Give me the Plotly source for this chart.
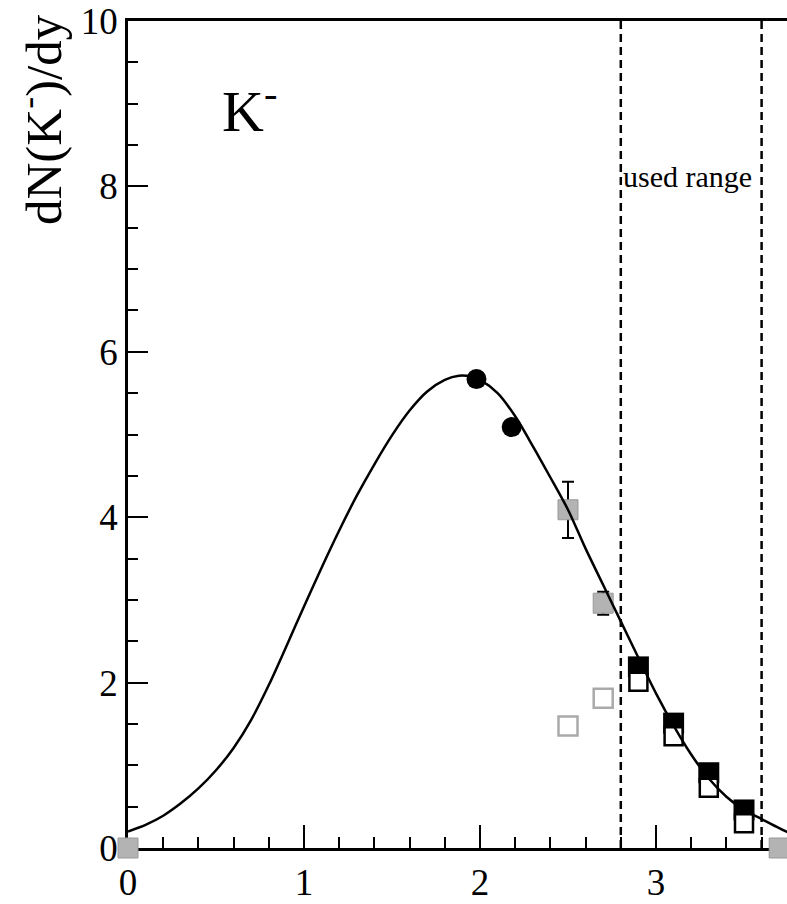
import plotly.graph_objects as go

# ---- data ----
curve_x = [0.0, 0.1, 0.2, 0.3, 0.4, 0.5, 0.6, 0.7, 0.8, 0.9, 1.0, 1.1, 1.2, 1.3, 1.4, 1.5,
           1.6, 1.7, 1.8, 1.88, 1.95, 2.0, 2.1, 2.2, 2.3, 2.4, 2.5, 2.6, 2.7, 2.8, 2.9, 3.0,
           3.1, 3.2, 3.3, 3.4, 3.5, 3.6, 3.7, 3.75]
curve_y = [0.20, 0.28, 0.39, 0.54, 0.72, 0.94, 1.21, 1.55, 1.97, 2.44, 2.92, 3.39, 3.84, 4.26,
           4.64, 4.99, 5.29, 5.52, 5.66, 5.71, 5.70, 5.66, 5.50, 5.22, 4.86, 4.48, 4.09, 3.62,
           3.18, 2.74, 2.30, 1.87, 1.48, 1.13, 0.84, 0.62, 0.46, 0.35, 0.24, 0.19]

circ_x = [1.98, 2.18]
circ_y = [5.67, 5.09]
circ_err = [0.08, 0.0]

gray_fill_x = [2.5, 2.7, 0.0, 3.7]
gray_fill_y = [4.09, 2.96, 0.0, 0.0]
gray_fill_err = [0.34, 0.14, 0.0, 0.0]

gray_open_x = [2.5, 2.7]
gray_open_y = [1.475, 1.81]

black_fill_x = [2.9, 3.1, 3.3, 3.5]
black_fill_y = [2.19, 1.51, 0.91, 0.46]

black_open_x = [2.9, 3.1, 3.3, 3.5]
black_open_y = [2.01, 1.35, 0.73, 0.30]

used_range = [2.8, 3.6]
y_limits = [0, 10]
x_ticks = [0, 1, 2, 3]
y_ticks = [0, 2, 4, 6, 8, 10]

FONT = "Liberation Serif"

fig = go.Figure()

# dashed "used range" lines
for xv in used_range:
    fig.add_trace(go.Scatter(x=[xv, xv], y=y_limits, mode="lines",
                             line=dict(color="black", width=2.5, dash="8px,5px"),
                             hoverinfo="skip", showlegend=False))

fig.add_trace(go.Scatter(x=gray_open_x, y=gray_open_y, mode="markers", cliponaxis=False,
                         marker=dict(symbol="square", size=19, color="white",
                                     line=dict(color="#aaaaaa", width=2.5)), showlegend=False))
fig.add_trace(go.Scatter(x=gray_fill_x, y=gray_fill_y, mode="markers", cliponaxis=False,
                         error_y=dict(type="data", array=gray_fill_err, color="black",
                                      thickness=2, width=6),
                         marker=dict(symbol="square", size=20, color="#b3b3b3",
                                     line=dict(color="#999999", width=1)), showlegend=False))
fig.add_trace(go.Scatter(x=circ_x, y=circ_y, mode="markers", cliponaxis=False,
                         error_y=dict(type="data", array=circ_err, color="black",
                                      thickness=2, width=6),
                         marker=dict(symbol="circle", size=20, color="black"), showlegend=False))
fig.add_trace(go.Scatter(x=black_fill_x, y=black_fill_y, mode="markers", cliponaxis=False,
                         marker=dict(symbol="square", size=21, color="black"), showlegend=False))
fig.add_trace(go.Scatter(x=black_open_x, y=black_open_y, mode="markers", cliponaxis=False,
                         marker=dict(symbol="square", size=18, color="white",
                                     line=dict(color="black", width=2.5)), showlegend=False))
fig.add_trace(go.Scatter(x=curve_x, y=curve_y, mode="lines",
                         line=dict(color="black", width=2.5, shape="spline", smoothing=0.8),
                         showlegend=False))

fig.add_annotation(x=0.52, y=8.96, xref="x", yref="y", text="K<sup>-</sup>", showarrow=False,
                   xanchor="left", yanchor="middle", font=dict(family=FONT, size=58, color="black"))
fig.add_annotation(x=3.18, y=8.12, xref="x", yref="y", text="used range", showarrow=False,
                   xanchor="center", yanchor="middle", font=dict(family=FONT, size=30, color="black"))
fig.add_annotation(x=(40 - 128) / 659, y=(904 - 56 - 120) / 827, xref="paper", yref="paper",
                   text="dN(K<sup>-</sup>)/dy", showarrow=False, textangle=-90,
                   xanchor="center", yanchor="middle",
                   font=dict(family=FONT, size=51, color="black"))

fig.update_layout(
    width=787, height=904,
    margin=dict(l=128, r=0, t=21, b=56, pad=0),
    plot_bgcolor="white", paper_bgcolor="white",
    font=dict(family=FONT, size=36, color="black"),
)
fig.update_xaxes(range=[0, 659 / 176], tickvals=x_ticks, showgrid=False, zeroline=False,
                 showline=True, linecolor="black", linewidth=2.7, mirror=True,
                 ticks="inside", ticklen=23, tickwidth=2, tickcolor="black",
                 minor=dict(dtick=0.2, ticks="inside", ticklen=11, tickwidth=2, tickcolor="black"),
                 tickfont=dict(family=FONT, size=37), layer="below traces")
fig.update_yaxes(range=y_limits, tickvals=y_ticks, showgrid=False, zeroline=False,
                 showline=True, linecolor="black", linewidth=2.7,
                 ticks="inside", ticklen=20, tickwidth=2, tickcolor="black",
                 minor=dict(dtick=0.5, ticks="inside", ticklen=10, tickwidth=2, tickcolor="black"),
                 tickfont=dict(family=FONT, size=37), layer="below traces")

fig.write_html("out.html")
